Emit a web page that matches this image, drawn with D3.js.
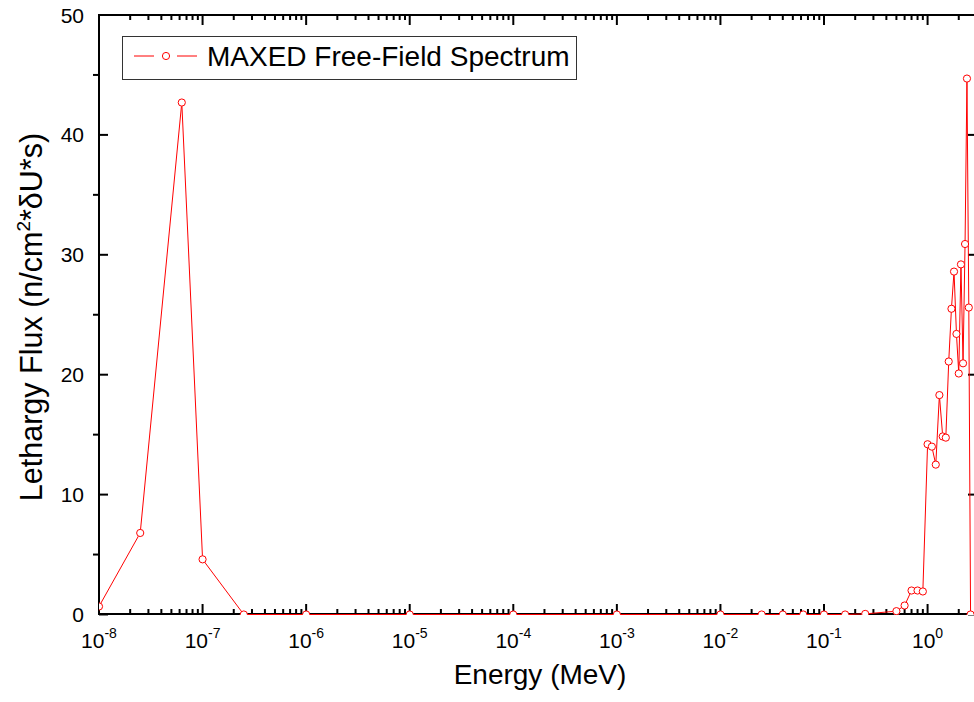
<!DOCTYPE html>
<html>
<head>
<meta charset="utf-8">
<script src="https://cdn.jsdelivr.net/npm/d3@7"></script>
<style>
  html, body { margin: 0; padding: 0; background: #fff; }
  svg { display: block; font-family: "Liberation Sans", Arial, sans-serif; }
</style>
</head>
<body>
<svg id="chart" width="974" height="702"></svg>
<script>
// Neutron energy bins (MeV) and unfolded lethargy flux values
const energies = [
  1e-8, 2.5e-8, 6.3e-8, 1e-7, 2.5e-7, 1e-6, 1e-5, 1e-4, 1e-3, 1e-2,
  0.025, 0.04, 0.063, 0.1, 0.16, 0.25, 0.5, 0.6, 0.7, 0.8, 0.9,
  1.0, 1.1, 1.2, 1.3, 1.4, 1.5, 1.6, 1.7, 1.8, 1.9, 2.0, 2.1, 2.2, 2.3, 2.4, 2.5, 2.6
];
const flux = [
  0.67, 6.8, 42.7, 4.6, 0.0, 0.0, 0.0, 0.0, 0.0, 0.0,
  0.0, 0.0, 0.0, 0.0, 0.0, 0.05, 0.28, 0.75, 2.0, 2.0, 1.92,
  14.2, 14.0, 12.5, 18.3, 14.85, 14.75, 21.1, 25.5, 28.6, 23.4, 20.1, 29.2, 20.95, 30.9, 44.7, 25.6, 0.0
];
const seriesName = "MAXED Free-Field Spectrum";
const xTickExponents = [-8, -7, -6, -5, -4, -3, -2, -1, 0];
const yTickValues = [0, 10, 20, 30, 40, 50];
const yMinorValues = [5, 15, 25, 35, 45];

const svg = d3.select("#chart");
const plotLeft = 99, plotRight = 977, plotTop = 15, plotBottom = 614;
const red = "#ff0000";

const x = d3.scaleLog().domain([1e-8, 3]).range([plotLeft, plotRight]);
const y = d3.scaleLinear().domain([0, 50]).range([plotBottom + 0.5, plotTop]);

// minor decade ticks (2..9 in each decade)
const xMinor = [];
for (let e = -8; e <= 0; e++) {
  for (let m = 2; m <= 9; m++) {
    const v = m * Math.pow(10, e);
    if (v <= 3) xMinor.push(v);
  }
}
const xMajor = xTickExponents.map(e => Math.pow(10, e));

const axes = svg.append("g").attr("stroke", "#000").attr("stroke-width", 2).attr("fill", "none");

// frame
axes.append("line").attr("x1", plotLeft).attr("x2", plotRight + 1).attr("y1", plotBottom).attr("y2", plotBottom);
axes.append("line").attr("x1", plotLeft).attr("x2", plotRight + 1).attr("y1", plotTop).attr("y2", plotTop);
axes.append("line").attr("x1", plotLeft).attr("x2", plotLeft).attr("y1", plotTop - 1).attr("y2", plotBottom + 1);
axes.append("line").attr("x1", plotRight).attr("x2", plotRight).attr("y1", plotTop - 1).attr("y2", plotBottom + 1);

// bottom & top ticks (pointing inward)
axes.selectAll(".xmaj").data(xMajor).join("line")
  .attr("x1", d => x(d)).attr("x2", d => x(d)).attr("y1", plotBottom).attr("y2", plotBottom - 10);
axes.selectAll(".xmin").data(xMinor).join("line")
  .attr("x1", d => x(d)).attr("x2", d => x(d)).attr("y1", plotBottom).attr("y2", plotBottom - 5);
axes.selectAll(".xmajt").data(xMajor).join("line")
  .attr("x1", d => x(d)).attr("x2", d => x(d)).attr("y1", plotTop).attr("y2", plotTop + 10);
axes.selectAll(".xmint").data(xMinor).join("line")
  .attr("x1", d => x(d)).attr("x2", d => x(d)).attr("y1", plotTop).attr("y2", plotTop + 5);

// left & right ticks: major inward, minor outward
axes.selectAll(".ymaj").data(yTickValues).join("line")
  .attr("x1", plotLeft).attr("x2", plotLeft + 9).attr("y1", d => y(d)).attr("y2", d => y(d));
axes.selectAll(".ymin").data(yMinorValues).join("line")
  .attr("x1", plotLeft).attr("x2", plotLeft - 6).attr("y1", d => y(d)).attr("y2", d => y(d));
axes.selectAll(".ymajr").data(yTickValues).join("line")
  .attr("x1", plotRight).attr("x2", plotRight - 9).attr("y1", d => y(d)).attr("y2", d => y(d));
axes.selectAll(".yminr").data(yMinorValues).join("line")
  .attr("x1", plotRight).attr("x2", plotRight + 6).attr("y1", d => y(d)).attr("y2", d => y(d));

// tick labels
const xl = svg.append("g").attr("fill", "#000");
xTickExponents.forEach(e => {
  const t = xl.append("text").attr("x", x(Math.pow(10, e))).attr("y", 648)
    .attr("text-anchor", "middle").attr("font-size", 21);
  t.append("tspan").text("10");
  t.append("tspan").attr("dy", -10).attr("font-size", 14).text(String(e));
});
svg.append("g").selectAll("text").data(yTickValues).join("text")
  .attr("x", 84).attr("y", d => y(d) + 7.5)
  .attr("text-anchor", "end").attr("font-size", 21).text(d => d);

// axis titles
svg.append("text").attr("x", 540).attr("y", 684).attr("text-anchor", "middle")
  .attr("font-size", 28).text("Energy (MeV)");
const yt = svg.append("text").attr("transform", "translate(42,317) rotate(-90)")
  .attr("text-anchor", "middle").attr("font-size", 30.5);
yt.append("tspan").text("Lethargy Flux (n/cm");
yt.append("tspan").attr("dy", -12).attr("font-size", 19).text("2");
yt.append("tspan").attr("dy", 12).text("*\u03B4U*s)");

// data series, clipped to the plot area
svg.append("clipPath").attr("id", "plotClip").append("rect")
  .attr("x", plotLeft).attr("y", plotTop).attr("width", plotRight - plotLeft).attr("height", plotBottom + 1 - plotTop);
const pts = energies.map((e, i) => [e, flux[i]]);
const plot = svg.append("g").attr("clip-path", "url(#plotClip)");
plot.append("path").datum(pts)
  .attr("fill", "none").attr("stroke", red).attr("stroke-width", 1)
  .attr("d", d3.line().x(d => x(d[0])).y(d => y(d[1])));
plot.selectAll("circle").data(pts).join("circle")
  .attr("cx", d => x(d[0])).attr("cy", d => y(d[1])).attr("r", 3.6)
  .attr("fill", "#fff").attr("stroke", red).attr("stroke-width", 1);

// legend
const lg = svg.append("g");
lg.append("rect").attr("x", 122.5).attr("y", 36.5).attr("width", 454).attr("height", 43)
  .attr("fill", "#fff").attr("stroke", "#333").attr("stroke-width", 1);
lg.append("line").attr("x1", 134).attr("x2", 154).attr("y1", 56).attr("y2", 56).attr("stroke", red);
lg.append("line").attr("x1", 177).attr("x2", 197).attr("y1", 56).attr("y2", 56).attr("stroke", red);
lg.append("circle").attr("cx", 166).attr("cy", 56).attr("r", 3.6)
  .attr("fill", "#fff").attr("stroke", red);
lg.append("text").attr("x", 207).attr("y", 66).attr("font-size", 28).text(seriesName);
</script>
</body>
</html>
